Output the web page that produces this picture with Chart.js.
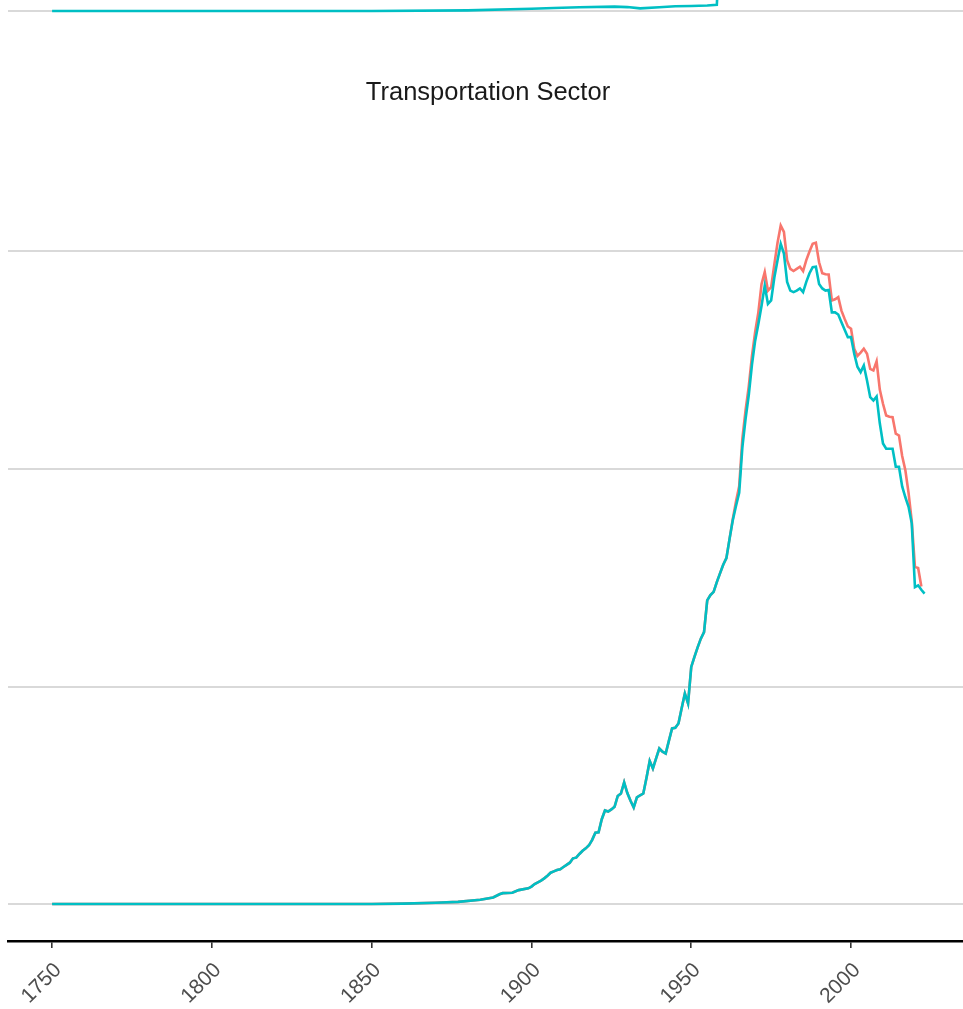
<!DOCTYPE html>
<html>
<head>
<meta charset="utf-8">
<title>Transportation Sector</title>
<script src="https://cdn.jsdelivr.net/npm/chart.js@4.4.1/dist/chart.umd.min.js"></script>
<style>
  html, body { margin: 0; padding: 0; background: #fff; overflow: hidden; }
  #wrap { position: relative; width: 963px; height: 1009px; overflow: hidden; }
  #topChart { position: absolute; left: 0; top: 0; }
  #mainChart { position: absolute; left: 0; top: 0; }
</style>
</head>
<body>
<div id="wrap">
  <canvas id="mainChart" width="968" height="1009"></canvas>
  <canvas id="topChart" width="968" height="40"></canvas>
</div>
<script>
// years shared by both transportation series
const years = [
  1750, 1800, 1850, 1860, 1870, 1877, 1884, 1888, 1890, 1891, 1894, 1896, 1899,
  1900, 1901, 1902, 1903, 1904, 1905, 1906, 1907, 1908, 1909,
  1910, 1911, 1912, 1913, 1914, 1915, 1916, 1917, 1918, 1919,
  1920, 1921, 1922, 1923, 1924, 1925, 1926, 1927, 1928, 1929,
  1930, 1931, 1932, 1933, 1934, 1935, 1936, 1937, 1938, 1939,
  1940, 1941, 1942, 1943, 1944, 1945, 1946, 1947, 1948, 1949,
  1950, 1951, 1952, 1953, 1954, 1955, 1956, 1957, 1958, 1959,
  1960, 1961, 1962, 1963, 1964, 1965, 1966, 1967, 1968, 1969,
  1970, 1971, 1972, 1973, 1974, 1975, 1976, 1977, 1978, 1979,
  1980, 1981, 1982, 1983, 1984, 1985, 1986, 1987, 1988, 1989,
  1990, 1991, 1992, 1993, 1994, 1995, 1996, 1997, 1998, 1999,
  2000, 2001, 2002, 2003, 2004, 2005, 2006, 2007, 2008, 2009,
  2010, 2011, 2012, 2013, 2014, 2015, 2016, 2017, 2018, 2019,
  2020, 2021, 2022, 2023
];

const tealValues = [
  0, 0, 0, 0.02, 0.06, 0.1, 0.2, 0.3, 0.45, 0.5, 0.52, 0.64, 0.72,
  0.8, 0.92, 1.0, 1.08, 1.18, 1.3, 1.44, 1.5, 1.56, 1.6,
  1.7, 1.8, 1.9, 2.1, 2.13, 2.3, 2.45, 2.56, 2.7, 2.95,
  3.28, 3.3, 3.9, 4.3, 4.25, 4.35, 4.47, 4.97, 5.08, 5.59,
  5.1, 4.75, 4.44, 4.9, 5.0, 5.08, 5.8, 6.58, 6.23, 6.7,
  7.15, 7.0, 6.92, 7.5, 8.07, 8.1, 8.3, 9.0, 9.68, 9.22,
  10.9, 11.36, 11.8, 12.2, 12.5, 13.96, 14.2, 14.35, 14.8, 15.2,
  15.6, 15.9, 16.8, 17.64, 18.3, 18.9, 21.0, 22.3, 23.4, 24.8,
  25.9, 26.67, 27.5, 28.43, 27.59, 27.75, 28.8, 29.6, 30.35, 29.9,
  28.6, 28.2, 28.13, 28.2, 28.3, 28.13, 28.6, 29.0, 29.28, 29.3,
  28.5, 28.3, 28.2, 28.23, 27.2, 27.2, 27.1, 26.75, 26.4, 26.06,
  26.06, 25.3, 24.7, 24.45, 24.76, 24.07, 23.3, 23.15, 23.33, 22.1,
  21.17, 20.93, 20.93, 20.93, 20.1, 20.1, 19.2, 18.7, 18.26, 17.5,
  14.57, 14.65, 14.45, 14.27
];

const redValues = [
  0, 0, 0, 0.02, 0.06, 0.1, 0.2, 0.3, 0.45, 0.5, 0.52, 0.64, 0.72,
  0.8, 0.92, 1.0, 1.08, 1.18, 1.3, 1.44, 1.5, 1.56, 1.6,
  1.7, 1.8, 1.9, 2.1, 2.13, 2.3, 2.45, 2.56, 2.7, 2.95,
  3.28, 3.3, 3.9, 4.3, 4.25, 4.35, 4.47, 4.97, 5.08, 5.59,
  5.1, 4.75, 4.44, 4.9, 5.0, 5.08, 5.8, 6.58, 6.23, 6.7,
  7.15, 7.0, 6.92, 7.5, 8.07, 8.1, 8.3, 9.0, 9.68, 9.22,
  10.9, 11.36, 11.8, 12.2, 12.5, 13.96, 14.2, 14.35, 14.8, 15.2,
  15.6, 15.9, 16.8, 17.7, 18.5, 19.2, 21.4, 22.7, 23.8, 25.2,
  26.3, 27.2, 28.5, 29.05, 28.2, 28.36, 29.4, 30.4, 31.19, 30.9,
  29.6, 29.2, 29.1, 29.2, 29.3, 29.1, 29.6, 30.0, 30.35, 30.4,
  29.5, 29.0, 28.95, 28.94, 27.75, 27.8, 27.9, 27.28, 26.9, 26.55,
  26.45, 25.53, 25.2, 25.35, 25.53, 25.3, 24.6, 24.53, 24.95, 23.65,
  23.0, 22.46, 22.4, 22.38, 21.62, 21.54, 20.6, 19.94, 18.9, 17.6,
  15.5, 15.45, 14.6, null
];

// bottom strip of the panel above
const topYears = [1750, 1850, 1880, 1900, 1907, 1915, 1926, 1930, 1934, 1940, 1945, 1950, 1955, 1958, 1959];
const topValues = [0, 0, 0.03, 0.1, 0.14, 0.17, 0.2, 0.18, 0.12, 0.17, 0.22, 0.23, 0.25, 0.28, 3.0];

const xTicks = [1750, 1800, 1850, 1900, 1950, 2000];
const yTicks = [0, 10, 20, 30];

const RED = '#F8766D';
const TEAL = '#00BFC4';
const GRID = '#D9D9D9';

Chart.defaults.font.family = '"Liberation Sans", Arial, sans-serif';
Chart.defaults.animation = false;

function points(xs, ys) {
  return xs.map((x, i) => ({ x: x, y: ys[i] }));
}

function fixTicks(list) {
  return function (scale) {
    scale.ticks = list.map(v => ({ value: v }));
  };
}

const xRange = { min: 1736.2, max: 2036.6 };

// main panel
new Chart(document.getElementById('mainChart'), {
  type: 'line',
  data: {
    datasets: [
      {
        label: 'teal',
        data: points(years, tealValues),
        borderColor: TEAL,
        borderWidth: 2.6,
        pointRadius: 0,
        tension: 0
      },
      {
        label: 'red',
        data: points(years, redValues),
        borderColor: RED,
        borderWidth: 2.6,
        pointRadius: 0,
        tension: 0
      }
    ]
  },
  options: {
    responsive: false,
    devicePixelRatio: 1,
    layout: { padding: { top: 62, left: 8, right: 0, bottom: 0 } },
    plugins: {
      legend: { display: false },
      tooltip: { enabled: false },
      title: {
        display: true,
        text: 'Transportation Sector',
        color: '#1A1A1A',
        font: { size: 25.5, weight: 'normal' },
        padding: { top: 16, bottom: 18 }
      }
    },
    scales: {
      x: {
        type: 'linear',
        min: xRange.min,
        max: xRange.max,
        afterBuildTicks: fixTicks(xTicks),
        afterFit: function (scale) { scale.height = 68; },
        grid: {
          drawOnChartArea: false,
          drawTicks: true,
          tickLength: 7,
          color: '#333333',
          lineWidth: 1.6
        },
        border: { display: true, color: '#000000', width: 2.6 },
        ticks: {
          color: '#4D4D4D',
          font: { size: 21 },
          minRotation: 45,
          maxRotation: 45,
          padding: 10,
          labelOffset: 6,
          callback: v => String(v)
        }
      },
      y: {
        type: 'linear',
        min: -1.7,
        max: 35.74,
        afterBuildTicks: fixTicks(yTicks),
        afterFit: function (scale) { scale.width = 0; },
        grid: { color: GRID, lineWidth: 2, drawTicks: false },
        border: { display: false },
        ticks: { display: false }
      }
    }
  }
});

// strip of the panel above
new Chart(document.getElementById('topChart'), {
  type: 'line',
  data: {
    datasets: [{
      data: points(topYears, topValues),
      borderColor: TEAL,
      borderWidth: 2.6,
      pointRadius: 0,
      tension: 0
    }]
  },
  options: {
    responsive: false,
    devicePixelRatio: 1,
    layout: { padding: { top: 0, left: 8, right: 0, bottom: 0 } },
    plugins: { legend: { display: false }, tooltip: { enabled: false }, title: { display: false } },
    scales: {
      x: { type: 'linear', min: xRange.min, max: xRange.max, display: false },
      y: {
        type: 'linear',
        min: -1.332,
        max: 0.505,
        afterBuildTicks: fixTicks([0]),
        afterFit: function (scale) { scale.width = 0; },
        grid: { color: GRID, lineWidth: 2, drawTicks: false },
        border: { display: false },
        ticks: { display: false }
      }
    }
  }
});
</script>
</body>
</html>
